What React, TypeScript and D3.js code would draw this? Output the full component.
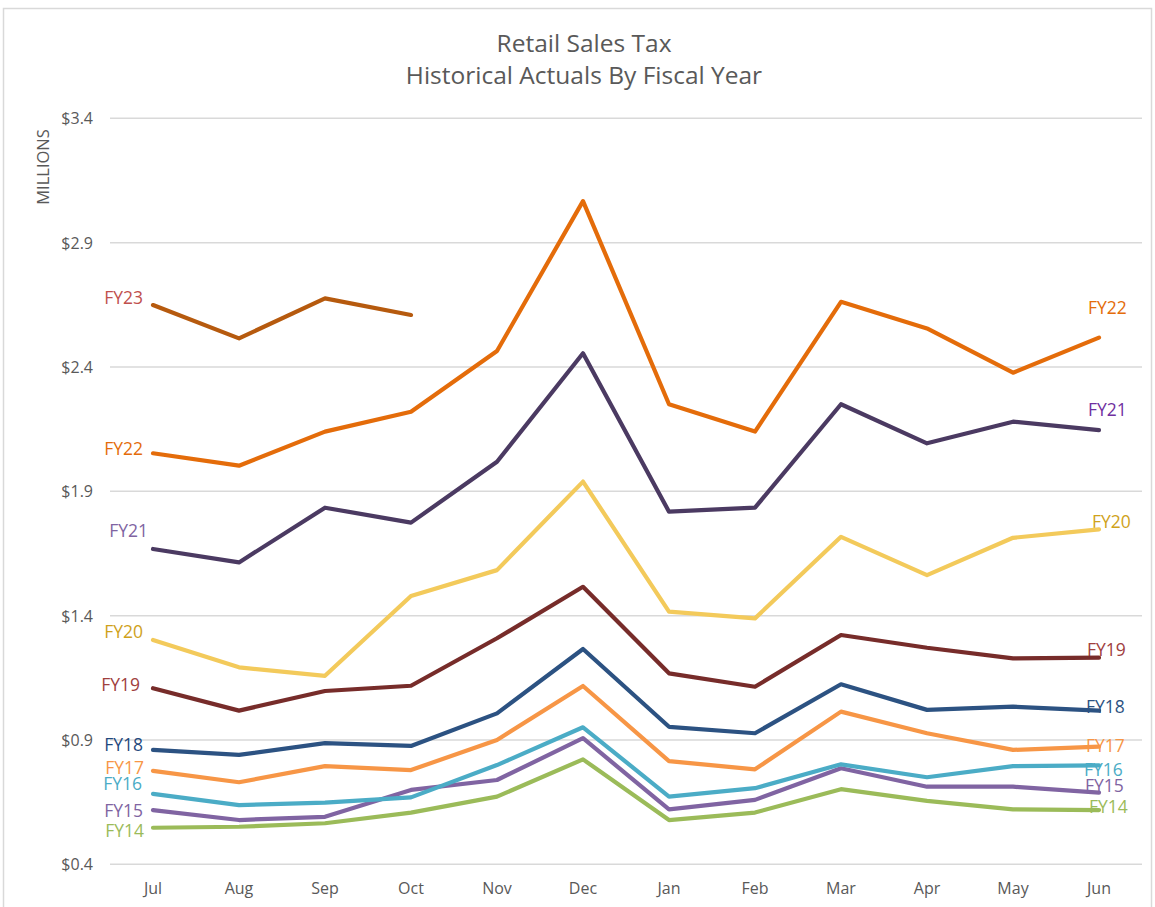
import React from "react";
import * as d3 from "d3";

const months = ["Jul", "Aug", "Sep", "Oct", "Nov", "Dec", "Jan", "Feb", "Mar", "Apr", "May", "Jun"];
const yTicks = [0.4, 0.9, 1.4, 1.9, 2.4, 2.9, 3.4];

const fy14 = [0.547, 0.551, 0.565, 0.608, 0.672, 0.822, 0.578, 0.608, 0.702, 0.655, 0.621, 0.618];
const fy15 = [0.618, 0.578, 0.591, 0.699, 0.739, 0.907, 0.621, 0.659, 0.786, 0.712, 0.712, 0.688];
const fy16 = [0.683, 0.638, 0.648, 0.669, 0.799, 0.951, 0.672, 0.706, 0.802, 0.75, 0.795, 0.798];
const fy17 = [0.776, 0.73, 0.795, 0.779, 0.9, 1.117, 0.815, 0.782, 1.014, 0.927, 0.86, 0.873];
const fy18 = [0.86, 0.84, 0.887, 0.876, 1.007, 1.266, 0.953, 0.927, 1.124, 1.021, 1.034, 1.018];
const fy19 = [1.108, 1.018, 1.097, 1.118, 1.309, 1.516, 1.168, 1.114, 1.322, 1.271, 1.228, 1.231];
const fy20 = [1.302, 1.192, 1.158, 1.479, 1.583, 1.939, 1.416, 1.389, 1.717, 1.563, 1.713, 1.747];
const fy21 = [1.668, 1.614, 1.834, 1.774, 2.019, 2.455, 1.818, 1.834, 2.25, 2.093, 2.18, 2.146];
const fy22 = [2.053, 2.003, 2.14, 2.22, 2.464, 3.067, 2.25, 2.14, 2.662, 2.555, 2.377, 2.518];
const fy23 = [2.649, 2.515, 2.676, 2.609];

const seriesNames = ["FY14", "FY15", "FY16", "FY17", "FY18", "FY19", "FY20", "FY21", "FY22", "FY23"];
const seriesValues = [fy14, fy15, fy16, fy17, fy18, fy19, fy20, fy21, fy22, fy23];

// styling (kept separate from data)
const lineColors: Record<string, string> = {
  FY14: "#9BBB59",
  FY15: "#8064A2",
  FY16: "#4BACC6",
  FY17: "#F79646",
  FY18: "#2C5282",
  FY19: "#772C2A",
  FY20: "#F3CA5B",
  FY21: "#4B3A62",
  FY22: "#E46C0A",
  FY23: "#B65A0E",
};

// label placement offsets relative to first / last point
const leftLabels: Record<string, { dx: number; dy: number; color: string }> = {
  FY14: { dx: -9, dy: 2, color: "#9BBB59" },
  FY15: { dx: -10, dy: 0, color: "#8064A2" },
  FY16: { dx: -11, dy: -11, color: "#4BACC6" },
  FY17: { dx: -9, dy: -4, color: "#F79646" },
  FY18: { dx: -10, dy: -6, color: "#1F497D" },
  FY19: { dx: -13, dy: -4, color: "#A0403D" },
  FY20: { dx: -10, dy: -9, color: "#CFA21B" },
  FY21: { dx: -5, dy: -19, color: "#8064A2" },
  FY22: { dx: -10, dy: -5, color: "#E46C0A" },
  FY23: { dx: -10, dy: -8, color: "#C0504D" },
};
const rightLabels: Record<string, { dx: number; dy: number; color: string }> = {
  FY14: { dx: -10, dy: -4, color: "#9BBB59" },
  FY15: { dx: -14, dy: -8, color: "#8064A2" },
  FY16: { dx: -15, dy: 4, color: "#4BACC6" },
  FY17: { dx: -13, dy: -2, color: "#F79646" },
  FY18: { dx: -13, dy: -5, color: "#2C5282" },
  FY19: { dx: -12, dy: -9, color: "#A0403D" },
  FY20: { dx: -7, dy: -8, color: "#CFA21B" },
  FY21: { dx: -11, dy: -21, color: "#7030A0" },
  FY22: { dx: -11, dy: -31, color: "#E46C0A" },
};

const W = 1155;
const H = 907;
const FONT = "'Open Sans', 'Noto Sans', sans-serif";

export default function App() {
  const x = d3.scaleBand<string>().domain(months).range([110, 1142]).padding(0);
  const cx = (m: string) => (x(m) as number) + x.bandwidth() / 2;
  const y = d3.scaleLinear().domain([0.4, 3.4]).range([864.3, 118.3]);

  const line = d3
    .line<number>()
    .x((_, i) => cx(months[i]))
    .y((v) => y(v));

  return (
    <svg
      width={W}
      height={H}
      style={{ position: "absolute", left: 0, top: 0, background: "#fff" }}
      fontFamily={FONT}
    >
      <rect x={3.5} y={8.5} width={1148} height={920} fill="#fff" stroke="#D9D9D9" strokeWidth={1.5} />

      <text x={584} y={52} textAnchor="middle" fontSize={24.5} fill="#595959">
        Retail Sales Tax
      </text>
      <text x={584} y={84} textAnchor="middle" fontSize={24.5} fill="#595959">
        Historical Actuals By Fiscal Year
      </text>

      <text
        transform={`translate(42.5,167) rotate(-90)`}
        textAnchor="middle"
        dominantBaseline="central"
        fontSize={16.5}
        fill="#595959"
      >
        MILLIONS
      </text>

      {yTicks.map((t) => (
        <g key={t}>
          <line x1={110} x2={1142} y1={y(t)} y2={y(t)} stroke="#D9D9D9" strokeWidth={1.5} />
          <text x={93} y={y(t)} textAnchor="end" dominantBaseline="central" fontSize={16} fill="#595959">
            {"$" + t.toFixed(1)}
          </text>
        </g>
      ))}

      {months.map((m) => (
        <text key={m} x={cx(m)} y={888} textAnchor="middle" dominantBaseline="central" fontSize={16} fill="#595959">
          {m}
        </text>
      ))}

      {seriesNames.map((name, si) => {
        const vals = seriesValues[si];
        const l = leftLabels[name];
        const r = rightLabels[name];
        const last = vals.length - 1;
        return (
          <g key={"lab" + name}>
            {l && (
              <text
                x={cx(months[0]) + l.dx}
                y={y(vals[0]) + l.dy}
                textAnchor="end"
                dominantBaseline="central"
                fontSize={17.5}
                fill={l.color}
              >
                {name}
              </text>
            )}
            {r && (
              <text
                x={cx(months[last]) + r.dx}
                y={y(vals[last]) + r.dy}
                textAnchor="start"
                dominantBaseline="central"
                fontSize={17.5}
                fill={r.color}
              >
                {name}
              </text>
            )}
          </g>
        );
      })}

      {seriesNames.map((name, si) => (
        <path
          key={name}
          d={line(seriesValues[si]) || ""}
          fill="none"
          stroke={lineColors[name]}
          strokeWidth={4.2}
          strokeLinejoin="round"
          strokeLinecap="round"
        />
      ))}
    </svg>
  );
}
